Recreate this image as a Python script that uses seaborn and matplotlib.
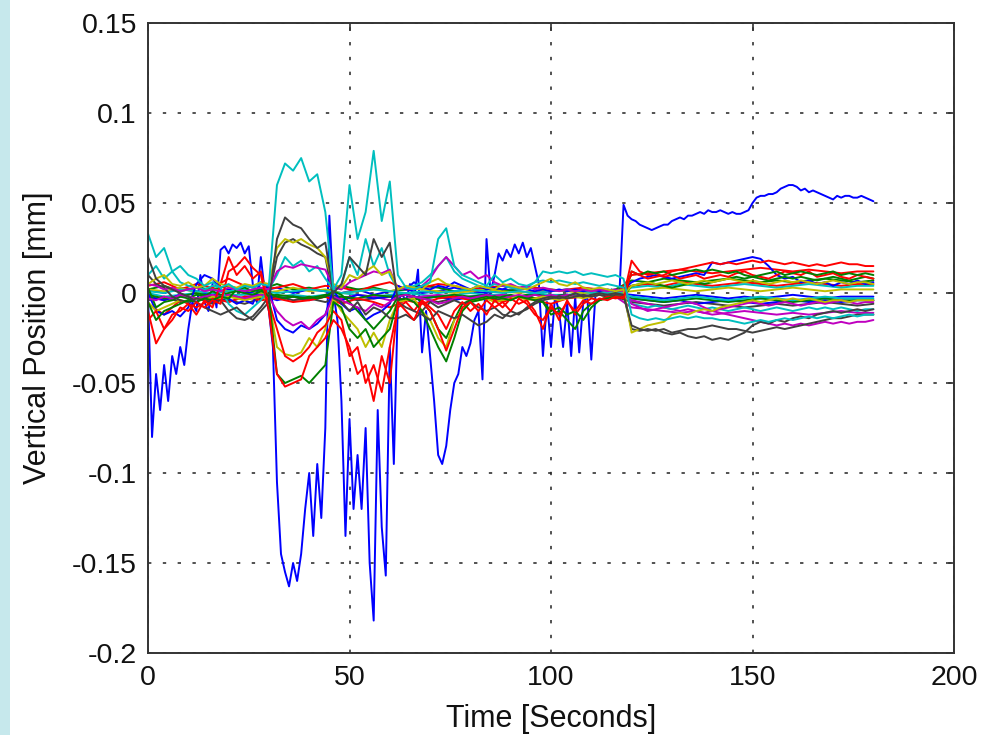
import numpy as np
import pandas as pd
import matplotlib
matplotlib.use("Agg")
import matplotlib.pyplot as plt
from matplotlib.patches import Rectangle
from matplotlib.ticker import FixedLocator, FuncFormatter
import seaborn as sns

# ---------------- data ----------------
t1 = list(range(0, 181))        # 1 s grid, main blue trace
t2 = list(range(0, 181, 2))     # 2 s grid
t4 = list(range(0, 181, 4))     # 4 s grid, quiet traces

blue_main = [
    0.0, -0.08, -0.045, -0.065, -0.04, -0.06, -0.035, -0.045, -0.03, -0.04,
    -0.02, -0.005, -0.01, 0.01, -0.005, -0.01, 0.005, -0.008, 0.024, 0.026,
    0.022, 0.027, 0.025, 0.028, 0.022, 0.026, 0.005, -0.005, 0.02, 0.0,
    -0.01, -0.03, -0.105, -0.145, -0.155, -0.163, -0.15, -0.16, -0.145, -0.12,
    -0.1, -0.135, -0.095, -0.125, -0.075, 0.043, 0.0, -0.015, -0.06, -0.135,
    -0.07, -0.12, -0.09, -0.12, -0.075, -0.15, -0.182, -0.065, -0.13, -0.157,
    -0.03, -0.095, -0.005, 0.0, -0.005, 0.005, -0.003, 0.013, -0.033, -0.01,
    -0.035, -0.06, -0.09, -0.095, -0.085, -0.065, -0.05, -0.045, -0.03, -0.035,
    -0.028, -0.015, -0.01, -0.048, 0.03, 0.0, 0.01, 0.022, 0.018, 0.024,
    0.02, 0.027, 0.022, 0.028, 0.02, 0.025, 0.015, 0.005, -0.035, -0.005,
    -0.03, -0.002, -0.01, -0.03, -0.005, -0.035, -0.002, -0.033, -0.005, -0.002,
    -0.037, -0.002, 0.0, 0.002, 0.0, 0.002, 0.0, 0.001, 0.049, 0.043,
    0.041, 0.040, 0.038, 0.037, 0.036, 0.035, 0.036, 0.037, 0.038, 0.038,
    0.040, 0.041, 0.042, 0.041, 0.043, 0.043, 0.044, 0.045, 0.044, 0.046,
    0.045, 0.045, 0.046, 0.045, 0.044, 0.045, 0.044, 0.044, 0.045, 0.046,
    0.050, 0.053, 0.054, 0.054, 0.055, 0.055, 0.056, 0.058, 0.059, 0.060,
    0.060, 0.059, 0.057, 0.058, 0.056, 0.057, 0.056, 0.055, 0.054, 0.053,
    0.052, 0.054, 0.053, 0.054, 0.054, 0.053, 0.053, 0.054, 0.053, 0.052, 0.051,
]

cyan_1 = [
    0.033, 0.02, 0.025, 0.012, 0.015, 0.01, 0.008, 0.004, 0.006, 0.003,
    0.005, 0.002, 0.004, 0.003, 0.005, 0.004, 0.06, 0.072, 0.068, 0.075,
    0.062, 0.066, 0.045, 0.002, 0.01, 0.06, 0.03, 0.045, 0.079, 0.04,
    0.062, 0.01, 0.003, 0.002, 0.004, 0.006, 0.03, 0.036, 0.015, 0.01,
    0.008, 0.006, 0.004, 0.01, 0.006, 0.008, 0.005, 0.004, 0.006, 0.012,
    0.011, 0.012, 0.011, 0.012, 0.01, 0.011, 0.01, 0.009, 0.01, 0.008,
    -0.012, -0.014, -0.015, -0.014, -0.015, -0.014, -0.013, -0.014, -0.013, -0.014,
    -0.014, -0.015, -0.015, -0.016, -0.017, -0.016, -0.015, -0.016, -0.015, -0.014,
    -0.015, -0.014, -0.013, -0.014, -0.013, -0.014, -0.013, -0.012, -0.013, -0.012, -0.012,
]

gray_1 = [
    0.02, 0.008, 0.004, 0.002, 0.0, -0.002, -0.005, -0.008, -0.01, -0.012,
    -0.01, -0.008, -0.012, -0.015, -0.01, -0.005, 0.03, 0.042, 0.038, 0.036,
    0.03, 0.025, 0.028, 0.0, 0.005, 0.02, 0.015, 0.01, 0.03, 0.02,
    0.028, -0.005, -0.008, -0.01, -0.012, -0.015, -0.01, -0.012, -0.014, -0.012,
    -0.015, -0.018, -0.016, -0.012, -0.014, -0.01, -0.012, -0.008, -0.005, -0.003,
    -0.002, -0.003, -0.002, 0.0, -0.002, -0.001, 0.0, -0.001, 0.0, -0.001,
    -0.018, -0.02, -0.021, -0.02, -0.022, -0.023, -0.022, -0.024, -0.025, -0.024,
    -0.026, -0.025, -0.026, -0.024, -0.022, -0.018, -0.016, -0.017, -0.015, -0.016,
    -0.014, -0.013, -0.014, -0.012, -0.011, -0.01, -0.011, -0.01, -0.009, -0.01, -0.009,
]

yellow_1 = [
    0.005, 0.008, 0.01, 0.005, 0.004, 0.006, 0.003, 0.004, 0.008, 0.005,
    0.004, 0.003, 0.005, 0.004, 0.006, 0.005, 0.025, 0.03, 0.028, 0.03,
    0.027, 0.025, 0.02, 0.005, 0.003, 0.01, 0.008, 0.012, 0.015, 0.01,
    0.012, 0.002, 0.004, 0.003, 0.002, 0.006, 0.008, 0.005, 0.004, 0.003,
    0.002, 0.004, 0.003, 0.002, 0.005, 0.004, 0.003, 0.002, 0.004, 0.006,
    0.008, 0.005, 0.004, 0.006, 0.003, 0.002, 0.003, 0.002, 0.001, 0.002,
    -0.022, -0.02, -0.018, -0.017, -0.016, -0.012, -0.011, -0.012, -0.01, -0.009,
    -0.01, -0.008, -0.007, -0.006, -0.005, -0.004, -0.005, -0.004, -0.003, -0.004,
    -0.003, -0.004, -0.003, -0.004, -0.005, -0.004, -0.004, -0.005, -0.004, -0.004, -0.004,
]

yellow_2 = [
    -0.005, -0.01, -0.008, -0.006, -0.004, -0.005, -0.003, -0.004, -0.002, -0.003,
    -0.002, -0.003, -0.004, -0.003, -0.002, -0.004, -0.03, -0.034, -0.035, -0.033,
    -0.025, -0.03, -0.02, -0.003, -0.01, -0.015, -0.02, -0.03, -0.022, -0.03,
    -0.015, -0.005, -0.004, -0.003, -0.01, -0.015, -0.025, -0.03, -0.015, -0.01,
    -0.005, -0.004, -0.003, -0.005, -0.004, -0.003, -0.002, -0.004, -0.003, -0.002,
    -0.003, -0.004, -0.003, -0.002, -0.003, -0.002, -0.001, -0.002, -0.001, -0.001,
    0.004, 0.005, 0.006, 0.005, 0.006, 0.007, 0.006, 0.005, 0.006, 0.007,
    0.006, 0.007, 0.008, 0.007, 0.006, 0.007, 0.006, 0.005, 0.006, 0.007,
    0.006, 0.007, 0.006, 0.005, 0.006, 0.007, 0.006, 0.005, 0.006, 0.006, 0.005,
]

red_1 = [
    -0.01, -0.028, -0.02, -0.015, -0.008, -0.01, -0.005, -0.008, -0.004, -0.006,
    0.012, 0.015, 0.02, 0.014, 0.01, -0.01, -0.045, -0.052, -0.05, -0.048,
    -0.035, -0.03, -0.025, -0.015, -0.02, -0.03, -0.045, -0.04, -0.06, -0.035,
    -0.05, -0.005, -0.01, -0.015, -0.005, -0.01, -0.02, -0.032, -0.02, -0.008,
    -0.005, -0.01, -0.004, -0.008, -0.005, -0.01, -0.003, -0.006, -0.012, -0.015,
    -0.008, -0.012, -0.005, -0.01, -0.004, -0.006, -0.003, -0.004, -0.002, -0.003,
    0.012, 0.01, 0.008, 0.009, 0.01, 0.012, 0.013, 0.014, 0.015, 0.016,
    0.017, 0.016, 0.017, 0.016, 0.017, 0.018, 0.017, 0.018, 0.017, 0.016,
    0.017, 0.016, 0.015, 0.016, 0.015, 0.016, 0.017, 0.016, 0.016, 0.015, 0.015,
]

red_2 = [
    -0.015, -0.01, -0.02, -0.012, -0.01, -0.006, -0.012, -0.004, -0.008, 0.005,
    0.02, 0.01, 0.015, 0.008, 0.012, -0.005, -0.02, -0.035, -0.038, -0.035,
    -0.03, -0.022, -0.018, -0.01, -0.015, -0.035, -0.03, -0.05, -0.04, -0.055,
    -0.03, -0.008, -0.005, -0.01, -0.004, -0.008, -0.012, -0.02, -0.01, -0.005,
    -0.01, -0.006, -0.012, -0.004, -0.008, -0.003, -0.006, -0.004, -0.01, -0.02,
    -0.006, -0.015, -0.004, -0.012, -0.006, -0.003, -0.004, -0.002, -0.003, -0.002,
    0.018, 0.012, 0.01, 0.011, 0.009, 0.01, 0.008, 0.009, 0.01, 0.008,
    0.009, 0.01, 0.009, 0.011, 0.012, 0.01, 0.009, 0.008, 0.01, 0.012,
    0.011, 0.01, 0.012, 0.009, 0.01, 0.011, 0.009, 0.008, 0.01, 0.009, 0.008,
]

green_1 = [
    -0.005, -0.015, -0.01, -0.008, -0.006, -0.004, -0.005, -0.003, -0.004, -0.002,
    -0.003, 0.002, 0.003, 0.001, 0.002, -0.002, -0.045, -0.05, -0.048, -0.046,
    -0.05, -0.045, -0.04, -0.005, -0.008, -0.02, -0.025, -0.02, -0.03, -0.025,
    -0.02, -0.004, -0.003, -0.005, -0.01, -0.02, -0.03, -0.038, -0.025, -0.01,
    -0.005, -0.004, -0.003, -0.002, -0.003, -0.004, -0.002, -0.003, -0.004, -0.005,
    -0.01, -0.008, -0.012, -0.01, -0.015, -0.008, -0.004, -0.003, -0.002, -0.003,
    0.012, 0.01, 0.012, 0.011, 0.012, 0.01, 0.011, 0.012, 0.013, 0.012,
    0.013, 0.012, 0.011, 0.012, 0.01, 0.009, 0.01, 0.011, 0.012, 0.01,
    0.011, 0.012, 0.011, 0.01, 0.011, 0.012, 0.01, 0.011, 0.01, 0.011, 0.01,
]

green_2 = [
    0.003, -0.008, -0.005, -0.004, -0.002, -0.003, -0.001, -0.002, 0.001, -0.001,
    0.0, 0.001, 0.0, -0.001, 0.001, 0.0, -0.002, -0.003, -0.002, -0.003,
    -0.002, -0.003, -0.002, 0.001, -0.001, -0.005, -0.01, -0.015, -0.02, -0.015,
    -0.01, -0.002, -0.001, -0.002, -0.005, -0.01, -0.02, -0.025, -0.015, -0.006,
    -0.004, -0.003, -0.002, -0.003, -0.002, -0.001, -0.002, -0.001, -0.003, -0.005,
    -0.012, -0.01, -0.015, -0.02, -0.01, -0.006, -0.004, -0.002, -0.001, -0.002,
    0.004, 0.005, 0.006, 0.005, 0.004, 0.003, 0.004, 0.005, 0.006, 0.005,
    0.006, 0.007, 0.008, 0.009, 0.008, 0.009, 0.008, 0.007, 0.008, 0.009,
    0.008, 0.009, 0.008, 0.007, 0.008, 0.009, 0.008, 0.007, 0.008, 0.009, 0.008,
]

magenta_1 = [
    0.005, 0.004, 0.002, 0.003, 0.001, 0.002, 0.003, 0.001, 0.002, 0.001,
    0.003, 0.002, 0.001, 0.002, 0.003, 0.002, 0.012, 0.015, 0.014, 0.016,
    0.015, 0.014, 0.013, 0.003, 0.002, 0.006, 0.008, 0.01, 0.012, 0.011,
    0.013, 0.002, 0.003, 0.002, 0.004, 0.008, 0.015, 0.02, 0.015, 0.01,
    0.012, 0.008, 0.01, 0.006, 0.004, 0.005, 0.003, 0.004, 0.002, 0.003,
    0.002, 0.001, 0.002, 0.001, 0.002, 0.001, 0.002, 0.001, 0.002, 0.001,
    -0.006, -0.008, -0.01, -0.009, -0.008, -0.007, -0.006, -0.005, -0.006, -0.008,
    -0.01, -0.009, -0.008, -0.007, -0.006, -0.005, -0.006, -0.007, -0.006, -0.005,
    -0.006, -0.007, -0.006, -0.005, -0.006, -0.005, -0.004, -0.005, -0.006, -0.005, -0.005,
]

magenta_2 = [
    -0.003, -0.004, -0.002, -0.003, -0.001, -0.002, -0.003, -0.002, -0.001, -0.002,
    -0.001, -0.002, -0.003, -0.002, -0.001, -0.002, -0.01, -0.015, -0.018, -0.016,
    -0.02, -0.015, -0.012, -0.002, -0.004, -0.006, -0.008, -0.01, -0.006, -0.008,
    -0.005, -0.002, -0.001, -0.002, -0.003, -0.004, -0.006, -0.005, -0.003, -0.002,
    -0.003, -0.002, -0.001, -0.002, -0.003, -0.002, -0.001, -0.002, -0.001, -0.002,
    -0.001, -0.002, -0.001, -0.002, -0.001, -0.002, -0.001, -0.001, -0.002, -0.001,
    -0.004, -0.005, -0.006, -0.007, -0.008, -0.009, -0.01, -0.009, -0.01, -0.011,
    -0.01, -0.011, -0.012, -0.013, -0.014, -0.015, -0.016, -0.017, -0.018, -0.017,
    -0.018, -0.017, -0.018, -0.017, -0.016, -0.017, -0.016, -0.017, -0.016, -0.016, -0.015,
]

blue_2 = [
    0.0, -0.01, -0.012, -0.01, -0.013, -0.008, 0.005, 0.01, 0.008, 0.002,
    -0.003, -0.006, -0.004, -0.006, 0.006, 0.003, -0.015, -0.02, -0.022, -0.018,
    -0.02, -0.017, -0.012, 0.002, -0.006, -0.01, -0.008, -0.015, -0.012, -0.01,
    -0.006, 0.004, 0.002, 0.006, 0.003, 0.002, 0.004, 0.003, 0.006, 0.004,
    0.002, 0.004, 0.002, 0.003, 0.002, 0.004, 0.003, 0.002, 0.001, 0.002,
    0.001, 0.002, 0.001, 0.002, 0.001, 0.002, 0.001, 0.002, 0.001, 0.002,
    0.006, 0.008, 0.009, 0.01, 0.009, 0.008, 0.009, 0.01, 0.011, 0.01,
    0.017, 0.016, 0.017, 0.018, 0.019, 0.02, 0.019, 0.015, 0.01, 0.008,
    0.009, 0.006, 0.007, 0.005, 0.006, 0.004, 0.006, 0.005, 0.007, 0.005, 0.006,
]

gray_2 = [
    0.01, 0.005, 0.003, -0.002, -0.004, -0.005, -0.003, -0.004, -0.006, -0.004,
    -0.01, -0.014, -0.015, -0.013, -0.008, -0.002, 0.02, 0.028, 0.03, 0.027,
    0.025, 0.022, 0.02, -0.003, -0.005, -0.01, -0.005, -0.012, -0.008, -0.01,
    -0.014, -0.014, -0.012, -0.015, -0.01, -0.005, -0.008, -0.006, -0.004, -0.006,
    -0.005, -0.008, -0.01, -0.008, -0.012, -0.013, -0.011, -0.009, -0.006, -0.004,
    -0.003, -0.002, -0.003, -0.002, -0.001, -0.002, -0.001, -0.002, -0.001, -0.001,
    -0.02, -0.021, -0.02, -0.021, -0.02, -0.022, -0.021, -0.02, -0.02, -0.019,
    -0.018, -0.019, -0.02, -0.02, -0.021, -0.022, -0.021, -0.02, -0.019, -0.02,
    -0.019, -0.018, -0.017, -0.016, -0.015, -0.014, -0.014, -0.013, -0.012, -0.012, -0.012,
]

cyan_2 = [
    0.01, 0.015, 0.008, 0.012, 0.006, 0.004, 0.003, 0.002, 0.004, 0.003,
    -0.006, -0.01, -0.012, -0.008, -0.004, 0.002, 0.01, 0.02, 0.015, 0.018,
    0.012, 0.015, 0.008, 0.002, 0.004, 0.02, 0.01, 0.03, 0.015, 0.025,
    0.01, 0.002, 0.003, 0.004, 0.006, 0.01, 0.015, 0.02, 0.012, 0.008,
    0.006, 0.004, 0.003, 0.005, 0.004, 0.003, 0.002, 0.003, 0.006, 0.007,
    0.006, 0.007, 0.006, 0.005, 0.006, 0.005, 0.004, 0.005, 0.004, 0.003,
    -0.006, -0.007, -0.008, -0.007, -0.008, -0.009, -0.008, -0.007, -0.008, -0.009,
    -0.008, -0.009, -0.01, -0.009, -0.008, -0.009, -0.01, -0.009, -0.008, -0.009,
    -0.01, -0.009, -0.008, -0.009, -0.008, -0.009, -0.008, -0.009, -0.01, -0.009, -0.009,
]

quiet_b1 = [
    0.002, 0.0, 0.003, 0.001, -0.001, 0.002, 0.0, 0.001, 0.003, 0.0,
    0.002, 0.001, 0.0, 0.002, -0.001, 0.001, 0.002, 0.0, 0.001, 0.003,
    0.001, 0.0, 0.002, 0.001, 0.0, 0.001, 0.002, 0.0, 0.001, 0.0,
    -0.001, -0.002, -0.003, -0.002, -0.001, -0.002, -0.003, -0.002, -0.003, -0.002,
    -0.001, -0.002, -0.003, -0.002, -0.002, -0.002,
]
quiet_g1 = [
    0.002, 0.004, 0.001, 0.003, 0.002, 0.004, 0.001, 0.002, 0.005, 0.002,
    0.003, 0.001, 0.004, 0.002, 0.003, 0.001, 0.002, 0.004, 0.003, 0.001,
    0.002, 0.003, 0.001, 0.002, 0.003, 0.002, 0.001, 0.002, 0.001, 0.002,
    0.007, 0.006, 0.008, 0.007, 0.006, 0.007, 0.008, 0.007, 0.006, 0.007,
    0.006, 0.007, 0.008, 0.007, 0.006, 0.007,
]
quiet_r1 = [
    0.004, 0.006, 0.002, 0.005, 0.003, 0.008, 0.004, 0.002, 0.003, 0.005,
    0.002, 0.004, 0.003, 0.001, 0.004, 0.006, 0.002, 0.003, 0.005, 0.004,
    0.002, 0.003, 0.004, 0.002, 0.003, 0.001, 0.002, 0.003, 0.002, 0.001,
    0.004, 0.005, 0.004, 0.006, 0.005, 0.004, 0.005, 0.006, 0.005, 0.004,
    0.005, 0.006, 0.005, 0.004, 0.005, 0.005,
]
quiet_c1 = [
    0.0, -0.002, -0.001, 0.0, -0.002, -0.001, -0.001, 0.0, -0.002, -0.001,
    -0.002, -0.001, 0.0, -0.001, -0.002, -0.001, 0.0, -0.001, -0.002, -0.001,
    0.0, -0.001, -0.001, -0.002, 0.0, -0.001, -0.001, 0.0, -0.001, 0.0,
    0.003, 0.004, 0.003, 0.005, 0.004, 0.003, 0.004, 0.005, 0.004, 0.003,
    0.004, 0.005, 0.004, 0.003, 0.004, 0.004,
]
quiet_m1 = [
    -0.002, -0.004, -0.001, -0.003, -0.002, -0.005, -0.002, -0.001, -0.003, -0.002,
    -0.004, -0.002, -0.003, -0.001, -0.002, -0.004, -0.003, -0.002, -0.001, -0.002,
    -0.003, -0.002, -0.001, -0.002, -0.003, -0.002, -0.001, -0.002, -0.001, -0.002,
    -0.008, -0.009, -0.01, -0.011, -0.01, -0.012, -0.011, -0.01, -0.011, -0.012,
    -0.011, -0.012, -0.011, -0.01, -0.011, -0.011,
]
quiet_y1 = [
    0.002, 0.001, 0.003, 0.0, 0.002, 0.001, 0.002, 0.0, 0.001, 0.003,
    0.001, 0.002, 0.0, 0.001, 0.002, 0.001, 0.003, 0.002, 0.001, 0.0,
    0.001, 0.002, 0.001, 0.0, 0.001, 0.002, 0.001, 0.0, 0.001, 0.0,
    0.001, 0.002, 0.003, 0.002, 0.001, 0.002, 0.003, 0.002, 0.001, 0.002,
    0.003, 0.002, 0.001, 0.002, 0.002, 0.002,
]
quiet_k1 = [
    -0.004, -0.002, -0.005, -0.003, -0.002, -0.004, -0.006, -0.003, -0.002, -0.004,
    -0.003, -0.005, -0.002, -0.004, -0.003, -0.002, -0.004, -0.003, -0.005, -0.003,
    -0.002, -0.003, -0.004, -0.002, -0.003, -0.002, -0.001, -0.002, -0.001, -0.002,
    -0.005, -0.006, -0.007, -0.006, -0.005, -0.006, -0.007, -0.008, -0.007, -0.006,
    -0.007, -0.006, -0.005, -0.006, -0.007, -0.006,
]
quiet_b2 = [
    -0.002, -0.004, -0.001, -0.003, -0.005, -0.002, -0.003, -0.001, -0.004, -0.002,
    -0.003, -0.002, -0.004, -0.001, -0.003, -0.002, -0.001, -0.003, -0.002, -0.004,
    -0.002, -0.001, -0.003, -0.002, -0.001, -0.002, -0.001, -0.002, -0.001, -0.001,
    -0.003, -0.004, -0.005, -0.004, -0.006, -0.005, -0.004, -0.005, -0.006, -0.005,
    -0.004, -0.005, -0.004, -0.005, -0.004, -0.004,
]
quiet_r2 = [
    -0.006, -0.012, -0.004, -0.008, -0.003, -0.005, -0.002, -0.004, -0.003, -0.005,
    -0.004, -0.002, -0.006, -0.003, -0.005, -0.008, -0.004, -0.006, -0.003, -0.002,
    -0.004, -0.003, -0.005, -0.002, -0.004, -0.006, -0.003, -0.002, -0.001, -0.002,
    0.01, 0.011, 0.012, 0.013, 0.012, 0.011, 0.012, 0.013, 0.014, 0.013,
    0.012, 0.013, 0.012, 0.011, 0.012, 0.012,
]
quiet_c2 = [
    0.001, 0.0, 0.002, 0.001, 0.0, 0.001, 0.002, 0.001, 0.0, 0.001,
    0.002, 0.001, 0.0, 0.001, 0.002, 0.001, 0.0, 0.001, 0.0, 0.001,
    0.002, 0.001, 0.0, 0.001, 0.0, 0.001, 0.002, 0.001, 0.0, 0.001,
    -0.002, -0.003, -0.004, -0.003, -0.002, -0.003, -0.004, -0.003, -0.002, -0.003,
    -0.004, -0.003, -0.002, -0.003, -0.003, -0.003,
]
quiet_g2 = [
    -0.001, -0.003, -0.002, 0.0, -0.002, -0.001, -0.003, -0.002, -0.001, -0.002,
    -0.003, -0.001, -0.002, -0.003, -0.001, -0.002, -0.001, -0.003, -0.002, -0.001,
    -0.002, -0.001, -0.003, -0.002, -0.001, -0.002, -0.001, -0.002, -0.001, -0.001,
    -0.003, -0.004, -0.005, -0.004, -0.003, -0.004, -0.005, -0.004, -0.003, -0.004,
    -0.005, -0.004, -0.003, -0.004, -0.004, -0.004,
]

x_ticks = [0, 50, 100, 150, 200]
y_ticks = [-0.2, -0.15, -0.1, -0.05, 0, 0.05, 0.1, 0.15]
x_label = "Time [Seconds]"
y_label = "Vertical Position [mm]"

# MATLAB classic colour order
C = {"b": "#0000FF", "g": "#008000", "r": "#FF0000", "c": "#00BFBF",
     "m": "#BF00BF", "y": "#BFBF00", "k": "#404040"}

series = [
    ("blue_main", t1, blue_main, "b"),
    ("quiet_b1", t4, quiet_b1, "b"),
    ("quiet_g1", t4, quiet_g1, "g"),
    ("quiet_r1", t4, quiet_r1, "r"),
    ("quiet_c1", t4, quiet_c1, "c"),
    ("quiet_m1", t4, quiet_m1, "m"),
    ("quiet_y1", t4, quiet_y1, "y"),
    ("quiet_k1", t4, quiet_k1, "k"),
    ("quiet_b2", t4, quiet_b2, "b"),
    ("quiet_g2", t4, quiet_g2, "g"),
    ("quiet_r2", t4, quiet_r2, "r"),
    ("quiet_c2", t4, quiet_c2, "c"),
    ("blue_2", t2, blue_2, "b"),
    ("green_2", t2, green_2, "g"),
    ("magenta_2", t2, magenta_2, "m"),
    ("yellow_2", t2, yellow_2, "y"),
    ("gray_2", t2, gray_2, "k"),
    ("cyan_2", t2, cyan_2, "c"),
    ("red_2", t2, red_2, "r"),
    ("green_1", t2, green_1, "g"),
    ("magenta_1", t2, magenta_1, "m"),
    ("yellow_1", t2, yellow_1, "y"),
    ("gray_1", t2, gray_1, "k"),
    ("red_1", t2, red_1, "r"),
    ("cyan_1", t2, cyan_1, "c"),
]

frames = []
for name, tt, vv, col in series:
    n = min(len(tt), len(vv))
    frames.append(pd.DataFrame({"t": tt[:n], "v": vv[:n], "s": name}))
df = pd.concat(frames, ignore_index=True)
order = [s[0] for s in series]
palette = {s[0]: C[s[3]] for s in series}

# ---------------- figure ----------------
sns.set_style("white")
plt.rcParams["font.family"] = ["Liberation Sans", "DejaVu Sans"]

fig = plt.figure(figsize=(10, 7.35), dpi=100)
fig.patches.append(Rectangle((0, 0), 0.010, 1, transform=fig.transFigure,
                             facecolor="#c6e8ec", edgecolor="none", zorder=0))
ax = fig.add_axes([0.148, 0.1116, 0.806, 0.857])

sns.lineplot(data=df, x="t", y="v", hue="s", hue_order=order, palette=palette,
             estimator=None, sort=False, legend=False, linewidth=1.4, ax=ax)

ax.set_xlim(0, 200)
ax.set_ylim(-0.2, 0.15)
ax.xaxis.set_major_locator(FixedLocator(x_ticks))
ax.yaxis.set_major_locator(FixedLocator(y_ticks))
ax.xaxis.set_major_formatter(FuncFormatter(lambda v, p: f"{v:g}"))
ax.yaxis.set_major_formatter(FuncFormatter(lambda v, p: f"{v:g}"))

ax.grid(True, color="#222222", linestyle=(0, (2.2, 7.5)), linewidth=1.1)
ax.set_axisbelow(True)
for sp in ax.spines.values():
    sp.set_visible(True)
    sp.set_color("#333333")
    sp.set_linewidth(1.4)

ax.tick_params(axis="both", direction="in", length=6, width=1.2, color="#333333",
               top=True, right=True, labelsize=20.5, labelcolor="#111111")
ax.tick_params(axis="x", pad=9)
ax.tick_params(axis="y", pad=8)

ax.set_xlabel(x_label, fontsize=22, color="#111111")
ax.set_ylabel(y_label, fontsize=22, color="#111111")
ax.xaxis.set_label_coords(0.5, -0.081)
ax.yaxis.set_label_coords(-0.118, 0.5)

fig.savefig("out.png", dpi=100, facecolor="white")
